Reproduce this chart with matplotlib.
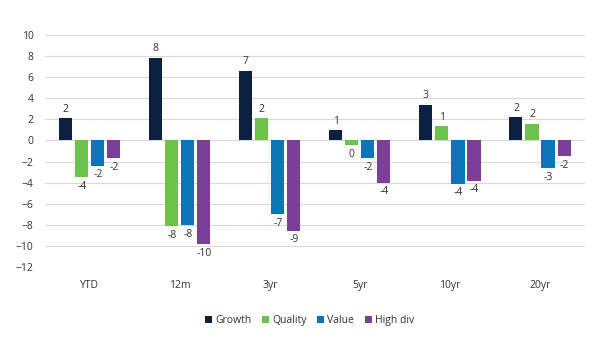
import numpy as np
import matplotlib.pyplot as plt

plt.rcParams['font.family'] = ['Open Sans', 'DejaVu Sans']

# Data
categories = ['YTD', '12m', '3yr', '5yr', '10yr', '20yr']
series = ['Growth', 'Quality', 'Value', 'High div']
growth = [2.1, 7.8, 6.6, 0.95, 3.4, 2.2]
quality = [-3.5, -8.1, 2.1, -0.45, 1.35, 1.55]
value = [-2.4, -8.0, -7.0, -1.7, -4.1, -2.6]
high_div = [-1.7, -9.8, -8.55, -4.0, -3.8, -1.5]
colors = ['#0c2142', '#6cc24a', '#0a76b7', '#7b3f97']

data = [growth, quality, value, high_div]

fig = plt.figure(figsize=(6.05, 3.46), dpi=100)
ax = fig.add_axes([0.074, 0.228, 0.893, 0.671])

x = np.arange(len(categories))
step = 0.178
width = 0.145

for i, (name, vals, col) in enumerate(zip(series, data, colors)):
    pos = x + (i - 1.5) * step
    ax.bar(pos, vals, width, color=col, label=name, zorder=3)
    for px, v in zip(pos, vals):
        lab = f"{round(v):d}"
        if v >= 0:
            ax.text(px, v + 0.35, lab, ha='center', va='bottom', fontsize=7.5, color='#333333')
        else:
            ax.text(px, v - 0.35, lab, ha='center', va='top', fontsize=7.5, color='#333333')

ax.set_ylim(-12, 10)
ax.set_yticks(range(-12, 11, 2))
ax.set_xlim(-0.5, len(categories) - 0.5)
ax.set_xticks(x)
ax.set_xticklabels(categories)
ax.tick_params(axis='both', length=0, labelsize=7.5, colors='#333333')
ax.tick_params(axis='x', pad=9)
ax.tick_params(axis='y', pad=8)
ax.grid(axis='y', color='#d9d9d9', linewidth=0.8, zorder=0)
for s in ax.spines.values():
    s.set_visible(False)

ax.legend(loc='upper center', bbox_to_anchor=(0.49, -0.165), ncol=4, frameon=False,
          fontsize=7.5, handlelength=0.7, handleheight=0.7, handletextpad=0.3,
          columnspacing=1.0, labelcolor='#333333')

fig.savefig('out.png', dpi=100)
